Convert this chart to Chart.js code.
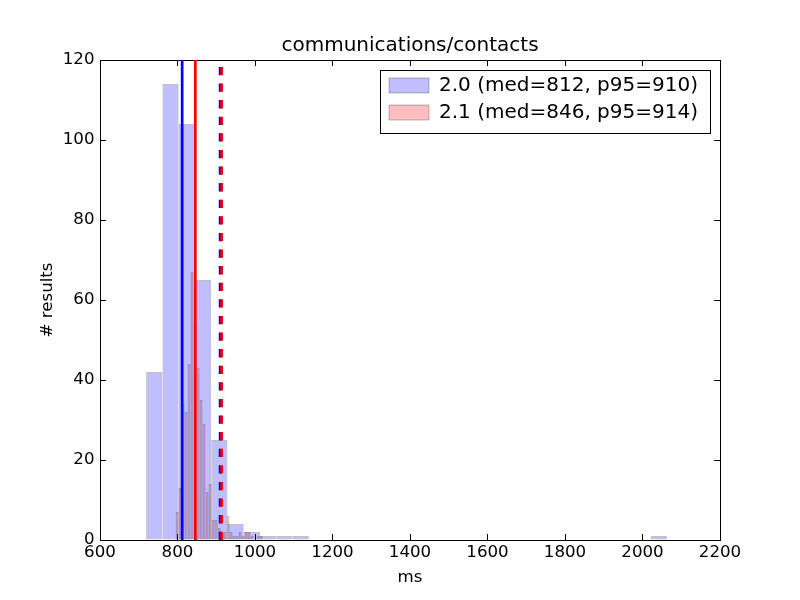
<!DOCTYPE html>
<html>
<head>
<meta charset="utf-8">
<script src="https://cdn.jsdelivr.net/npm/chart.js@4"></script>
<style>
html,body{margin:0;padding:0;background:#fff}
canvas{display:block}
</style>
</head>
<body>
<canvas id="c" width="800" height="600"></canvas>
<script>
// ---------- data ----------
const chartTitle = 'communications/contacts';
const xAxisLabel = 'ms';
const yAxisLabel = '# results';
const seriesLabels = ['2.0', '2.1'];
const medians = [812, 846];
const p95s = [910, 914];

const blueBinStart = 719;
const blueBinWidth = 42;
const blueCounts = [42, 114, 104, 65, 25, 4, 2, 1, 1, 1,
                    0, 0, 0, 0, 0, 0, 0, 0, 0, 0,
                    0, 0, 0, 0, 0, 0, 0, 0, 0, 0,
                    0, 1];

const redBinStart = 795;
const redBinWidth = 7.75;
const redCounts = [7, 13, 34, 32, 44, 67, 54, 43, 35, 29,
                   12, 14, 5, 5, 3, 2, 2, 6, 2, 1,
                   1, 2, 1, 2, 2, 1, 0, 1, 1];

const xMin = 600, xMax = 2200, xStep = 200;
const yMin = 0, yMax = 120, yStep = 20;

// ---------- helpers ----------
const FONT = 'DejaVu Sans';
function histPoints(start, width, counts) {
  return counts.map((c, i) => ({ x: start + (i + 0.5) * width, y: c }));
}
function vline(x, color, dashed, order) {
  return {
    type: 'line', label: '', data: [{ x: x, y: yMin }, { x: x, y: yMax }],
    xAxisID: 'x', yAxisID: 'y', borderColor: color, borderWidth: 2.7,
    borderDash: dashed ? [8.3, 8.3] : [], borderCapStyle: 'butt',
    pointRadius: 0, pointHoverRadius: 0, fill: false, order: order, tension: 0
  };
}
function innerGrid() {
  return { display: true, drawOnChartArea: false, drawTicks: true, tickLength: -6,
           color: '#000', lineWidth: 1, offset: false };
}
const border = { display: true, color: '#000', width: 1 };
const tickFont = { family: FONT, size: 16.67 };

const legendPlace = {
  id: 'legendPlace',
  afterLayout(chart) {
    const lg = chart.legend;
    if (!lg) return;
    lg.left = 382; lg.top = 68.5;
    lg.width = 328; lg.height = 200;
    lg.right = lg.left + lg.width; lg.bottom = lg.top + lg.height;
  },
  beforeDraw(chart) {
    const ctx = chart.ctx;
    ctx.save();
    ctx.fillStyle = '#fff';
    ctx.fillRect(0, 0, chart.width, chart.height);
    ctx.fillRect(380.5, 70.5, 330, 63);
    ctx.strokeStyle = '#000';
    ctx.lineWidth = 1;
    ctx.strokeRect(380.5, 70.5, 330, 63);
    ctx.restore();
  }
};

new Chart(document.getElementById('c'), {
  type: 'bar',
  data: {
    datasets: [
      {
        type: 'bar', label: seriesLabels[0] + ' (med=' + medians[0] + ', p95=' + p95s[0] + ')',
        data: histPoints(blueBinStart, blueBinWidth, blueCounts),
        xAxisID: 'x', yAxisID: 'y',
        backgroundColor: 'rgba(0,0,255,0.25)', borderColor: 'rgba(0,0,0,0.25)',
        borderWidth: 1, borderSkipped: false, inflateAmount: 0,
        barPercentage: 1, categoryPercentage: 1, grouped: false, order: 10
      },
      {
        type: 'bar', label: seriesLabels[1] + ' (med=' + medians[1] + ', p95=' + p95s[1] + ')',
        data: histPoints(redBinStart, redBinWidth, redCounts),
        xAxisID: 'xTop', yAxisID: 'y',
        backgroundColor: 'rgba(255,0,0,0.25)', borderColor: 'rgba(0,0,0,0.25)',
        borderWidth: 1, borderSkipped: false, inflateAmount: 0,
        barPercentage: 1, categoryPercentage: 1, grouped: false, order: 9
      },
      vline(medians[0], '#0000ff', false, 4),
      vline(medians[1], '#ff0000', false, 3),
      vline(p95s[0], '#0000ff', true, 2),
      vline(p95s[1], '#ff0000', true, 1)
    ]
  },
  options: {
    responsive: false,
    animation: false,
    devicePixelRatio: 1,
    layout: { padding: { left: 0, top: 0, right: 80, bottom: 0 } },
    plugins: {
      tooltip: { enabled: false },
      title: {
        display: true, text: chartTitle, color: '#000', fullSize: false,
        font: { family: FONT, size: 20, weight: 'normal' },
        padding: { top: 34, bottom: 2 }
      },
      legend: {
        display: true, position: 'chartArea', align: 'start',
        labels: {
          boxWidth: 40, boxHeight: 15, padding: 7, color: '#000',
          font: { family: FONT, size: 20 },
          filter: (item) => item.datasetIndex < 2,
          sort: (a, b) => a.datasetIndex - b.datasetIndex
        }
      }
    },
    scales: {
      x: {
        type: 'linear', position: 'bottom', min: xMin, max: xMax, offset: false, z: 1,
        grid: innerGrid(), border: border,
        ticks: { stepSize: xStep, color: '#000', font: tickFont, padding: 9,
                 maxRotation: 0, autoSkip: false, callback: v => String(v) },
        title: { display: true, text: xAxisLabel, color: '#000',
                 font: { family: FONT, size: 16.67 }, padding: { top: 0, bottom: 12 } },
        afterFit(s) { s.height = 60; }
      },
      xTop: {
        type: 'linear', position: 'top', min: xMin, max: xMax, offset: false, z: 1,
        grid: innerGrid(), border: border,
        ticks: { stepSize: xStep, display: false, autoSkip: false },
        afterFit(s) { s.height = 0; }
      },
      y: {
        type: 'linear', position: 'left', min: yMin, max: yMax, z: 1,
        grid: innerGrid(), border: border,
        ticks: { stepSize: yStep, color: '#000', font: tickFont, padding: 11.5,
                 callback: v => String(v) },
        title: { display: true, text: yAxisLabel, color: '#000',
                 font: { family: FONT, size: 16.67 }, padding: { top: 38, bottom: 0 } },
        afterFit(s) { s.width = 100; }
      },
      y2: {
        type: 'linear', position: 'right', min: yMin, max: yMax, z: 1,
        grid: innerGrid(), border: border,
        ticks: { stepSize: yStep, display: false },
        afterFit(s) { s.width = 0; }
      }
    }
  },
  plugins: [legendPlace]
});
</script>
</body>
</html>
